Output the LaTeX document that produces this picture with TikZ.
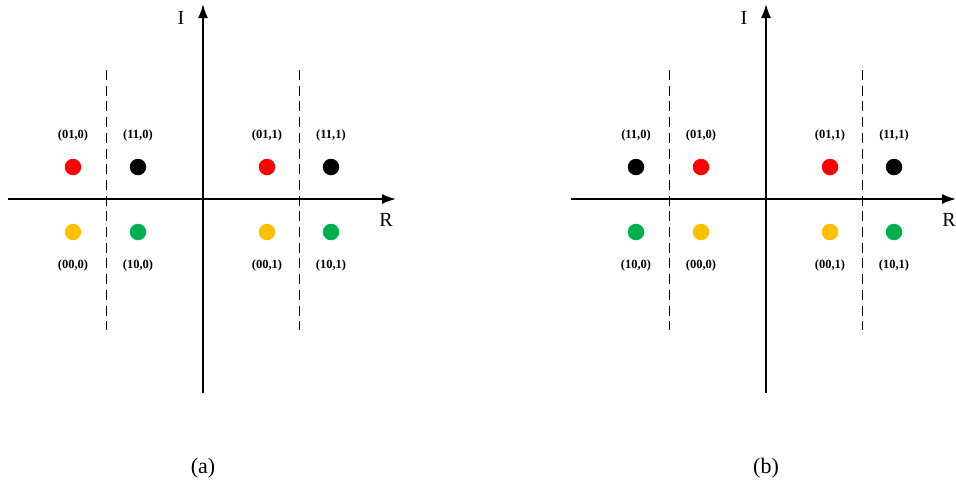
\documentclass[tikz,border=0pt]{standalone}
\usepackage{fontspec}
\setmainfont{Liberation Serif}
\usetikzlibrary{arrows.meta}
\definecolor{ptred}{RGB}{255,0,0}
\definecolor{ptblack}{RGB}{0,0,0}
\definecolor{ptyellow}{RGB}{255,192,0}
\definecolor{ptgreen}{RGB}{0,176,80}
\tikzset{
  axis/.style={line width=1.8pt,-{Latex[length=14pt,width=10pt]}},
  bound/.style={line width=0.9pt,dash pattern=on 10pt off 5.7pt},
  pt/.style={circle,fill=#1,inner sep=0pt,minimum size=16.5pt},
  lbl/.style={font=\fontsize{12.5}{14}\selectfont\bfseries,inner sep=0pt},
  axlbl/.style={font=\fontsize{20}{22}\selectfont,inner sep=0pt},
  captiontext/.style={font=\fontsize{22}{24}\selectfont,inner sep=0pt}
}
\begin{document}
\begin{tikzpicture}[x=1pt,y=-1pt]
\useasboundingbox (0,0) rectangle (956,491);
% panel (a)
\begin{scope}
  \coordinate (aW) at (8,199);   \coordinate (aE) at (396,199);
  \coordinate (aS) at (203,393); \coordinate (aN) at (203,4);
  \draw[axis] (aW) -- (aE);
  \draw[axis] (aS) -- (aN);
  \node[axlbl] (aI) at (181,18) {I};
  \node[axlbl] (aR) at (386,220) {R};
  \coordinate (aD1t) at (106,70); \coordinate (aD1b) at (106,330);
  \coordinate (aD2t) at (299,70); \coordinate (aD2b) at (299,330);
  \draw[bound] (aD1t) -- (aD1b);
  \draw[bound] (aD2t) -- (aD2b);
  \node[pt=ptred]    (a010) at (73,167)  {};
  \node[pt=ptblack]  (a110) at (138,167) {};
  \node[pt=ptred]    (a011) at (267,167) {};
  \node[pt=ptblack]  (a111) at (331,167) {};
  \node[pt=ptyellow] (a000) at (73,232)  {};
  \node[pt=ptgreen]  (a100) at (138,232) {};
  \node[pt=ptyellow] (a001) at (267,232) {};
  \node[pt=ptgreen]  (a101) at (331,232) {};
  \node[lbl] at (73,135)  {(01,0)};
  \node[lbl] at (138,135) {(11,0)};
  \node[lbl] at (267,135) {(01,1)};
  \node[lbl] at (331,135) {(11,1)};
  \node[lbl] at (73,265)  {(00,0)};
  \node[lbl] at (138,265) {(10,0)};
  \node[lbl] at (267,265) {(00,1)};
  \node[lbl] at (331,265) {(10,1)};
  \node[captiontext] (acap) at (203,468) {(a)};
\end{scope}
% panel (b)
\begin{scope}
  \coordinate (bW) at (571,199); \coordinate (bE) at (956,199);
  \coordinate (bS) at (766,393); \coordinate (bN) at (766,4);
  \draw[axis] (bW) -- (bE);
  \draw[axis] (bS) -- (bN);
  \node[axlbl] (bI) at (744,18) {I};
  \node[axlbl] (bR) at (949,220) {R};
  \coordinate (bD1t) at (669,70); \coordinate (bD1b) at (669,330);
  \coordinate (bD2t) at (862,70); \coordinate (bD2b) at (862,330);
  \draw[bound] (bD1t) -- (bD1b);
  \draw[bound] (bD2t) -- (bD2b);
  \node[pt=ptblack]  (b110) at (636,167) {};
  \node[pt=ptred]    (b010) at (701,167) {};
  \node[pt=ptred]    (b011) at (830,167) {};
  \node[pt=ptblack]  (b111) at (894,167) {};
  \node[pt=ptgreen]  (b100) at (636,232) {};
  \node[pt=ptyellow] (b000) at (701,232) {};
  \node[pt=ptyellow] (b001) at (830,232) {};
  \node[pt=ptgreen]  (b101) at (894,232) {};
  \node[lbl] at (636,135) {(11,0)};
  \node[lbl] at (701,135) {(01,0)};
  \node[lbl] at (830,135) {(01,1)};
  \node[lbl] at (894,135) {(11,1)};
  \node[lbl] at (636,265) {(10,0)};
  \node[lbl] at (701,265) {(00,0)};
  \node[lbl] at (830,265) {(00,1)};
  \node[lbl] at (894,265) {(10,1)};
  \node[captiontext] (bcap) at (766,468) {(b)};
\end{scope}
\end{tikzpicture}
\end{document}
